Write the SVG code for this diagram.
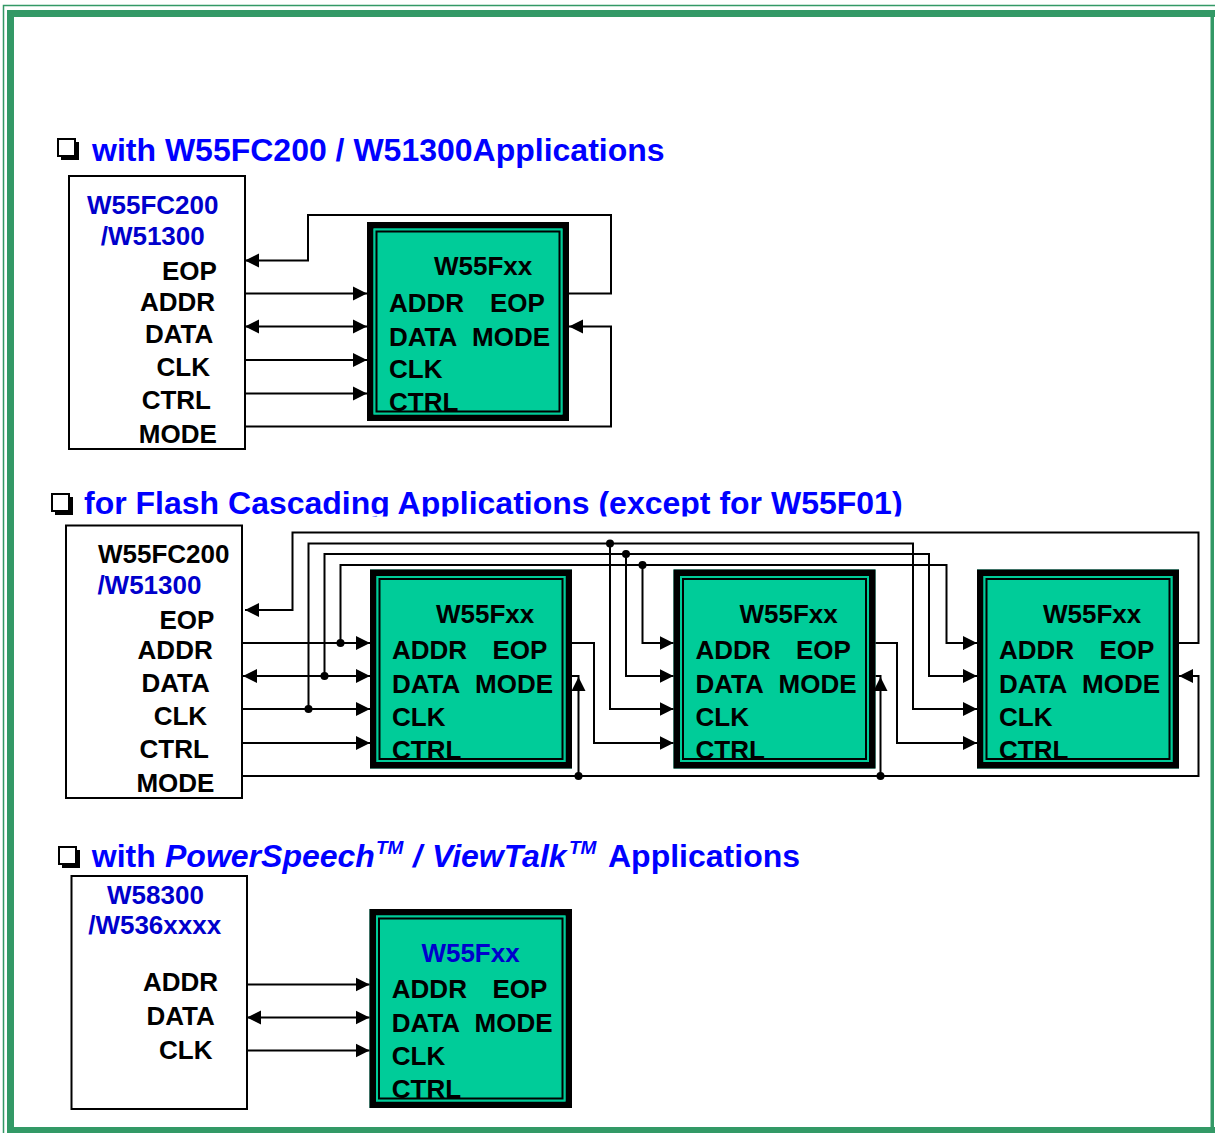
<svg xmlns="http://www.w3.org/2000/svg" xmlns:xlink="http://www.w3.org/1999/xlink" width="1215" height="1133" viewBox="0 0 1215 1133">
<style>
text{font-family:"Liberation Sans",Arial,Helvetica,sans-serif;font-weight:bold;}
.t{font-size:32px;fill:#0000FF;}
.l{font-size:26px;fill:#000;}
.b{fill:#0000CC;}
.box{fill:#fff;stroke:#000;stroke-width:2;}
.cbg{fill:#00CC99;}
.f1{fill:none;stroke:#000;stroke-width:6.5;}
.f2{fill:none;stroke:#00CC99;stroke-width:2;}
.f3{fill:none;stroke:#000;stroke-width:2;}
.w{fill:none;stroke:#000;stroke-width:2;}
.a{marker-end:url(#ah);}
.aa{marker-start:url(#ah);marker-end:url(#ah);}
.dot{fill:#000;}
.g{fill:#339966;}
</style>
<defs>
<marker id="ah" markerUnits="userSpaceOnUse" markerWidth="15" markerHeight="15" refX="14" refY="7.5" orient="auto-start-reverse" viewBox="0 0 15 15"><path d="M0,0.5 L14,7.5 L0,14.5 z" fill="#000"/></marker>
<g id="cb"><rect x="4" y="4" width="18" height="18" fill="#000"/><rect x="1" y="1" width="17" height="17" fill="#fff" stroke="#000" stroke-width="2"/></g>
<clipPath id="clipT2"><rect x="0" y="480" width="1215" height="36.5"/></clipPath>
</defs>

<g id="frame">
<path d="M3.5,1133 V5.5 H1215" fill="none" stroke="#339966" stroke-width="1.5"/>
<rect class="g" x="7" y="10" width="7" height="1123"/>
<rect class="g" x="7" y="10" width="1208" height="7"/>
<rect class="g" x="1210.5" y="10" width="3.5" height="1123"/>
<rect class="g" x="7" y="1127" width="1208" height="6"/>
</g>

<g id="title1">
<use xlink:href="#cb" x="57" y="138"/>
<text class="t" x="92" y="160.5">with W55FC200 / W51300Applications</text>
</g>

<g id="host1">
<rect class="box" x="69" y="176" width="176" height="273"/>
<text class="l b" x="87" y="213.5">W55FC200</text>
<text class="l b" x="100.7" y="245">/W51300</text>
<text class="l" x="162" y="280">EOP</text>
<text class="l" x="140" y="311">ADDR</text>
<text class="l" x="145" y="343">DATA</text>
<text class="l" x="156.5" y="376">CLK</text>
<text class="l" x="141.7" y="409">CTRL</text>
<text class="l" x="138.8" y="443">MODE</text>
</g>

<g id="chip1">
<rect class="cbg" x="367" y="222" width="202" height="199"/>
<text class="l" x="434" y="274.5">W55Fxx</text>
<text class="l" x="389" y="312">ADDR</text>
<text class="l" x="490" y="312">EOP</text>
<text class="l" x="389" y="345.5">DATA</text>
<text class="l" x="472" y="345.5">MODE</text>
<text class="l" x="389" y="377.5">CLK</text>
<text class="l" x="389" y="411">CTRL</text>
<rect class="f1" x="370.25" y="225.25" width="195.5" height="192.5"/>
<rect class="f2" x="374.5" y="229.5" width="187" height="184"/>
<rect class="f3" x="376.5" y="231.5" width="183" height="180"/>
</g>

<g id="connectors1">
<path class="w a" d="M569,293.5 H611 V215 H308 V260.5 H245"/>
<path class="w a" d="M245,293.5 H367"/>
<path class="w aa" d="M245,326.5 H367"/>
<path class="w a" d="M245,360 H367"/>
<path class="w a" d="M245,393.5 H367"/>
<path class="w a" d="M245,426.5 H611 V326.5 H569"/>
</g>

<g id="title2" clip-path="url(#clipT2)">
<use xlink:href="#cb" x="51" y="493"/>
<text class="t" x="84" y="513.5">for Flash Cascading Applications (except for W55F01)</text>
</g>

<g id="host2">
<rect class="box" x="66" y="525.5" width="176" height="272.5"/>
<text class="l" x="98" y="562.5">W55FC200</text>
<text class="l b" x="97.4" y="594">/W51300</text>
<text class="l" x="159.4" y="629">EOP</text>
<text class="l" x="137.6" y="659">ADDR</text>
<text class="l" x="141.4" y="692">DATA</text>
<text class="l" x="153.7" y="725">CLK</text>
<text class="l" x="139.5" y="757.5">CTRL</text>
<text class="l" x="136.4" y="792">MODE</text>
</g>

<g id="chip2a">
<rect class="cbg" x="370" y="569.5" width="202" height="199"/>
<text class="l" x="436" y="622.5">W55Fxx</text>
<text class="l" x="392" y="659">ADDR</text>
<text class="l" x="492.5" y="659">EOP</text>
<text class="l" x="392" y="692.5">DATA</text>
<text class="l" x="475" y="692.5">MODE</text>
<text class="l" x="392" y="725.5">CLK</text>
<text class="l" x="392" y="758.5">CTRL</text>
<rect class="f1" x="373.25" y="572.75" width="195.5" height="192.5"/>
<rect class="f2" x="377.5" y="577" width="187" height="184"/>
<rect class="f3" x="379.5" y="579" width="183" height="180"/>
</g>

<g id="chip2b">
<rect class="cbg" x="673.5" y="569.5" width="202" height="199"/>
<text class="l" x="739.5" y="622.5">W55Fxx</text>
<text class="l" x="695.5" y="659">ADDR</text>
<text class="l" x="796" y="659">EOP</text>
<text class="l" x="695.5" y="692.5">DATA</text>
<text class="l" x="778.5" y="692.5">MODE</text>
<text class="l" x="695.5" y="725.5">CLK</text>
<text class="l" x="695.5" y="758.5">CTRL</text>
<rect class="f1" x="676.75" y="572.75" width="195.5" height="192.5"/>
<rect class="f2" x="681" y="577" width="187" height="184"/>
<rect class="f3" x="683" y="579" width="183" height="180"/>
</g>

<g id="chip2c">
<rect class="cbg" x="977" y="569.5" width="202" height="199"/>
<text class="l" x="1043" y="622.5">W55Fxx</text>
<text class="l" x="999" y="659">ADDR</text>
<text class="l" x="1099.5" y="659">EOP</text>
<text class="l" x="999" y="692.5">DATA</text>
<text class="l" x="1082" y="692.5">MODE</text>
<text class="l" x="999" y="725.5">CLK</text>
<text class="l" x="999" y="758.5">CTRL</text>
<rect class="f1" x="980.25" y="572.75" width="195.5" height="192.5"/>
<rect class="f2" x="984.5" y="577" width="187" height="184"/>
<rect class="f3" x="986.5" y="579" width="183" height="180"/>
</g>

<g id="connectors2">
<path class="w a" d="M1179,643 H1198.5 V532.5 H292.5 V610 H245"/>
<path class="w a" d="M308.5,709 V543.5 H913 V709 H977"/>
<path class="w a" d="M610,543.5 V709 H673.5"/>
<path class="w a" d="M324.5,676 V554 H929 V676 H977"/>
<path class="w a" d="M626,554 V676 H673.5"/>
<path class="w a" d="M340.5,643 V565 H946.5 V643 H977"/>
<path class="w a" d="M642.5,565 V643 H673.5"/>
<path class="w a" d="M243,643 H370"/>
<path class="w aa" d="M243,676 H370"/>
<path class="w a" d="M243,709 H370"/>
<path class="w a" d="M243,743 H370"/>
<path class="w a" d="M572,643 H594 V743 H673.5"/>
<path class="w a" d="M875.5,643 H897 V743 H977"/>
<path class="w a" d="M243,776 H1198.5 V676 H1179"/>
<path class="w a" d="M578.5,776 V677"/>
<path class="w" d="M572,676 H579.5"/>
<path class="w a" d="M880.5,776 V677"/>
<path class="w" d="M875.5,676 H881.5"/>
<circle class="dot" cx="308.5" cy="709" r="4"/>
<circle class="dot" cx="324.5" cy="676" r="4"/>
<circle class="dot" cx="340.5" cy="643" r="4"/>
<circle class="dot" cx="610" cy="543.5" r="4"/>
<circle class="dot" cx="626" cy="554" r="4"/>
<circle class="dot" cx="642.5" cy="565" r="4"/>
<circle class="dot" cx="578.5" cy="776" r="4"/>
<circle class="dot" cx="880.5" cy="776" r="4"/>
</g>

<g id="title3">
<use xlink:href="#cb" x="58" y="846"/>
<text class="t" y="866.5"><tspan x="91.8">with </tspan><tspan x="165" font-style="italic">PowerSpeech</tspan><tspan x="376" y="853.5" font-size="19" font-style="italic">TM</tspan><tspan x="413" y="866.5" font-style="italic">/</tspan><tspan x="432" font-style="italic">ViewTalk</tspan><tspan x="569" y="853.5" font-size="19" font-style="italic">TM</tspan><tspan x="608" y="866.5">Applications</tspan></text>
</g>

<g id="host3">
<rect class="box" x="71.5" y="876" width="175.5" height="233"/>
<text class="l b" x="107" y="903.5">W58300</text>
<text class="l b" x="88.2" y="934">/W536xxxx</text>
<text class="l" x="143" y="991">ADDR</text>
<text class="l" x="146.4" y="1025">DATA</text>
<text class="l" x="159" y="1058.5">CLK</text>
</g>

<g id="chip3">
<rect class="cbg" x="369.5" y="909" width="202.5" height="199"/>
<text class="l b" x="421.4" y="962">W55Fxx</text>
<text class="l" x="391.8" y="998">ADDR</text>
<text class="l" x="492.5" y="998">EOP</text>
<text class="l" x="391.8" y="1032">DATA</text>
<text class="l" x="474.5" y="1032">MODE</text>
<text class="l" x="391.8" y="1065">CLK</text>
<text class="l" x="391.8" y="1098">CTRL</text>
<rect class="f1" x="372.75" y="912.25" width="196" height="192.5"/>
<rect class="f2" x="377" y="916.5" width="187.5" height="184"/>
<rect class="f3" x="379" y="918.5" width="183.5" height="180"/>
</g>

<g id="connectors3">
<path class="w a" d="M247,984.5 H369.5"/>
<path class="w aa" d="M247,1017.5 H369.5"/>
<path class="w a" d="M247,1050.5 H369.5"/>
</g>
</svg>
